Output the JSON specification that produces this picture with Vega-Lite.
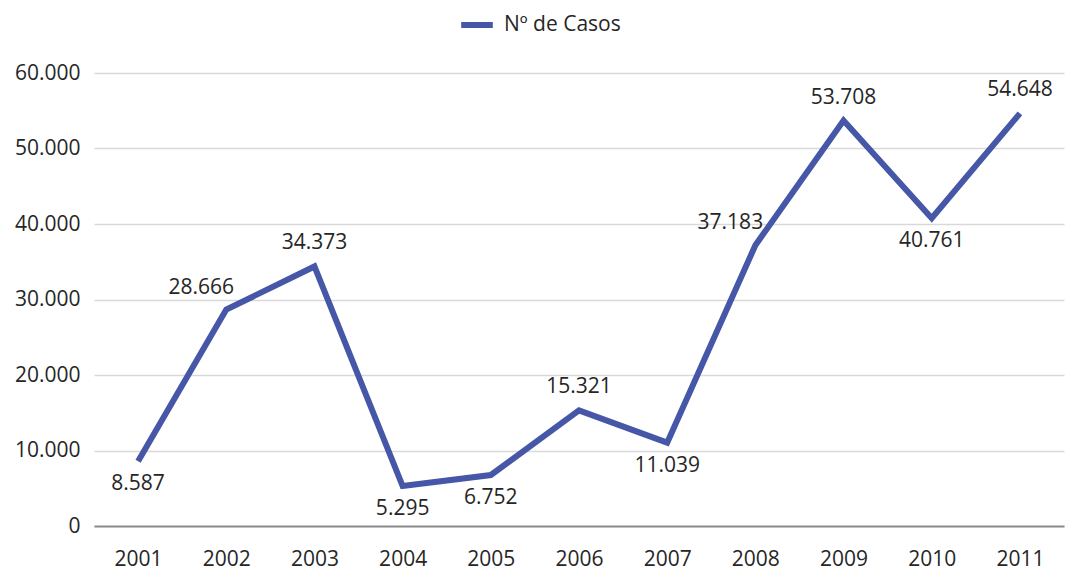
{
  "$schema": "https://vega.github.io/schema/vega-lite/v6.json",
  "width": 970,
  "height": 453,
  "autosize": "none",
  "padding": {"left": 94, "top": 73, "right": 4, "bottom": 44},
  "config": {
    "locale": {"number": {"decimal": ",", "thousands": ".", "grouping": [3], "currency": ["", " €"]}},
    "font": "Open Sans",
    "view": {"stroke": null}
  },
  "data": {"values": [
    {"Ano": "2001", "Casos": 8587, "Serie": "Nº de Casos"},
    {"Ano": "2002", "Casos": 28666, "Serie": "Nº de Casos"},
    {"Ano": "2003", "Casos": 34373, "Serie": "Nº de Casos"},
    {"Ano": "2004", "Casos": 5295, "Serie": "Nº de Casos"},
    {"Ano": "2005", "Casos": 6752, "Serie": "Nº de Casos"},
    {"Ano": "2006", "Casos": 15321, "Serie": "Nº de Casos"},
    {"Ano": "2007", "Casos": 11039, "Serie": "Nº de Casos"},
    {"Ano": "2008", "Casos": 37183, "Serie": "Nº de Casos"},
    {"Ano": "2009", "Casos": 53708, "Serie": "Nº de Casos"},
    {"Ano": "2010", "Casos": 40761, "Serie": "Nº de Casos"},
    {"Ano": "2011", "Casos": 54648, "Serie": "Nº de Casos"}
  ]},
  "encoding": {
    "x": {"field": "Ano", "type": "ordinal", "scale": {"paddingInner": 0, "paddingOuter": 0},
      "axis": {"title": null, "labelAngle": 0, "labelFontSize": 21, "labelColor": "#262626", "labelPadding": 22,
        "domainColor": "#8c8c8c", "domainWidth": 2, "ticks": false, "grid": false}},
    "y": {"field": "Casos", "type": "quantitative", "scale": {"domain": [0, 60000]},
      "axis": {"title": null, "values": [0, 10000, 20000, 30000, 40000, 50000, 60000], "format": ",d",
        "labelFontSize": 21, "labelColor": "#262626", "labelPadding": 14, "domain": false, "ticks": false,
        "gridColor": "#d9d9d9", "gridWidth": 1.3}}
  },
  "layer": [
    {
      "mark": {"type": "line", "strokeWidth": 6, "strokeJoin": "miter"},
      "encoding": {
        "color": {"field": "Serie", "type": "nominal", "scale": {"range": ["#4657a7"]},
          "legend": {"title": null, "orient": "none", "legendX": 364, "legendY": -67, "direction": "horizontal",
            "symbolType": "stroke", "symbolSize": 1000, "symbolStrokeWidth": 6, "labelFontSize": 21, "labelColor": "#262626", "labelOffset": 8}}
      }
    },
    {
      "transform": [{"filter": {"field": "Ano", "oneOf": ["2003", "2006", "2009", "2011"]}}],
      "mark": {"type": "text", "fontSize": 21, "color": "#262626", "dy": -23},
      "encoding": {"text": {"field": "Casos", "type": "quantitative", "format": ",d"}}
    },
    {
      "transform": [{"filter": {"field": "Ano", "oneOf": ["2002", "2008"]}}],
      "mark": {"type": "text", "fontSize": 21, "color": "#262626", "dy": -22, "dx": -25},
      "encoding": {"text": {"field": "Casos", "type": "quantitative", "format": ",d"}}
    },
    {
      "transform": [{"filter": {"field": "Ano", "oneOf": ["2001", "2004", "2005", "2007", "2010"]}}],
      "mark": {"type": "text", "fontSize": 21, "color": "#262626", "dy": 23},
      "encoding": {"text": {"field": "Casos", "type": "quantitative", "format": ",d"}}
    }
  ]
}
